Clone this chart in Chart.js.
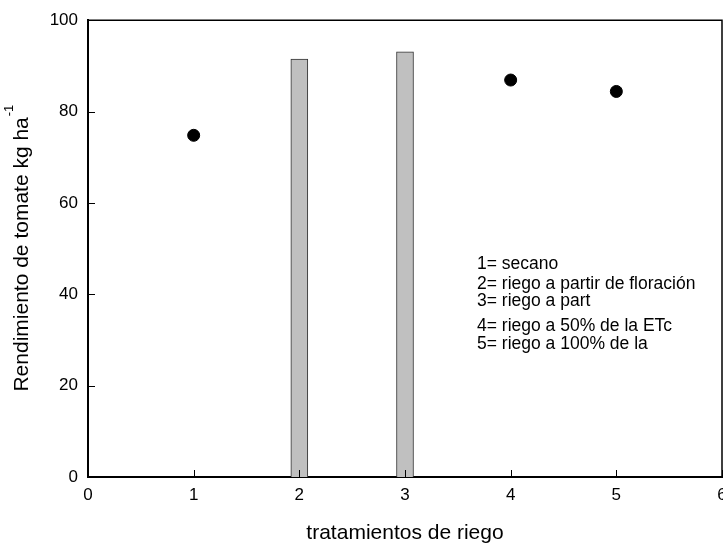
<!DOCTYPE html>
<html>
<head>
<meta charset="utf-8">
<script src="https://cdn.jsdelivr.net/npm/chart.js@4/dist/chart.umd.min.js"></script>
<style>
  html, body { margin: 0; padding: 0; background: #fff; overflow: hidden; }
  #wrap { width: 735px; height: 546px; }
</style>
</head>
<body>
<div id="wrap"><canvas id="rendChart" width="735" height="546"></canvas></div>
<script>
// bar values (treatments 2 and 3)
const barX = [2, 3];
const barY = [91.5, 93.1];
// point values (treatments 1, 4, 5)
const pointX = [1, 4, 5];
const pointY = [74.8, 86.9, 84.4];
// axis ticks
const xTicks = [0, 1, 2, 3, 4, 5, 6];
const yTicks = [0, 20, 40, 60, 80, 100];
// note lines inside the plot
const notes = [
    "1= secano",
    "2= riego a partir de floración",
    "3= riego a part",
    "4= riego a 50% de la ETc",
    "5= riego a 100% de la"
];
const noteY = [264, 284, 301, 326, 344];

const FONT = "'Liberation Sans', Arial, Helvetica, sans-serif";

// draws inward tick marks, the top/right frame, the y title and the notes
const extrasPlugin = {
    id: "extras",
    afterDraw: function (chart) {
        const ctx = chart.ctx;
        const area = chart.chartArea;
        const xs = chart.scales.x;
        const ys = chart.scales.y;
        ctx.save();
        ctx.strokeStyle = "#000";
        ctx.lineWidth = 1.5;
        // top and right frame
        ctx.beginPath();
        ctx.moveTo(area.left, area.top);
        ctx.lineTo(area.right, area.top);
        ctx.lineTo(area.right, area.bottom);
        ctx.stroke();
        // inward ticks
        ctx.lineWidth = 1;
        ctx.beginPath();
        yTicks.forEach(function (v) {
            const y = Math.round(ys.getPixelForValue(v)) + 0.5;
            ctx.moveTo(area.left, y);
            ctx.lineTo(area.left + 7, y);
        });
        xTicks.forEach(function (v) {
            const x = Math.round(xs.getPixelForValue(v)) + 0.5;
            ctx.moveTo(x, area.bottom);
            ctx.lineTo(x, area.bottom - 7);
        });
        ctx.stroke();

        // y axis title with superscript
        ctx.fillStyle = "#000";
        ctx.translate(22, (area.top + area.bottom) / 2);
        ctx.rotate(-Math.PI / 2);
        const main = "Rendimiento de tomate kg ha";
        const sup = "-1";
        ctx.font = "21px " + FONT;
        const wMain = ctx.measureText(main).width;
        ctx.font = "13px " + FONT;
        const wSup = ctx.measureText(sup).width;
        const start = -(wMain + wSup) / 2;
        ctx.textBaseline = "middle";
        ctx.textAlign = "left";
        ctx.font = "21px " + FONT;
        ctx.fillText(main, start, 0);
        ctx.font = "13px " + FONT;
        ctx.fillText(sup, start + wMain + 1, -13);
        ctx.restore();

        // notes
        ctx.save();
        ctx.fillStyle = "#000";
        ctx.font = "17.5px " + FONT;
        ctx.textBaseline = "middle";
        ctx.textAlign = "left";
        notes.forEach(function (t, i) {
            ctx.fillText(t, 477, noteY[i]);
        });
        ctx.restore();
    }
};

const ctx = document.getElementById("rendChart");
new Chart(ctx, {
    type: "bar",
    data: {
        datasets: [
            {
                type: "bar",
                data: barX.map((x, i) => ({ x: x, y: barY[i] })),
                backgroundColor: "#c0c0c0",
                borderColor: "#333",
                borderWidth: 1,
                barThickness: 17,
                order: 2
            },
            {
                type: "scatter",
                data: pointX.map((x, i) => ({ x: x, y: pointY[i] })),
                backgroundColor: "#000",
                borderColor: "#000",
                pointRadius: 6,
                order: 1
            }
        ]
    },
    options: {
        responsive: false,
        animation: false,
        devicePixelRatio: 1,
        layout: { padding: { left: 0, top: 20, right: 13, bottom: 0 } },
        plugins: {
            legend: { display: false },
            tooltip: { enabled: false }
        },
        scales: {
            x: {
                type: "linear",
                min: 0,
                max: 6,
                offset: false,
                grid: { display: false, drawTicks: false },
                border: { color: "#000", width: 2 },
                ticks: {
                    stepSize: 1,
                    padding: 8,
                    color: "#000",
                    font: { family: FONT, size: 17 },
                    maxRotation: 0
                },
                title: {
                    display: true,
                    text: "tratamientos de riego",
                    color: "#000",
                    font: { family: FONT, size: 21 },
                    padding: { top: 0, bottom: 0 }
                },
                afterFit: function (scale) { scale.height = 69; }
            },
            y: {
                min: 0,
                max: 100,
                grid: { display: false, drawTicks: false },
                border: { color: "#000", width: 2 },
                ticks: {
                    stepSize: 20,
                    padding: 10,
                    color: "#000",
                    font: { family: FONT, size: 17 }
                },
                afterFit: function (scale) { scale.width = 88; }
            }
        }
    },
    plugins: [extrasPlugin]
});
</script>
</body>
</html>
